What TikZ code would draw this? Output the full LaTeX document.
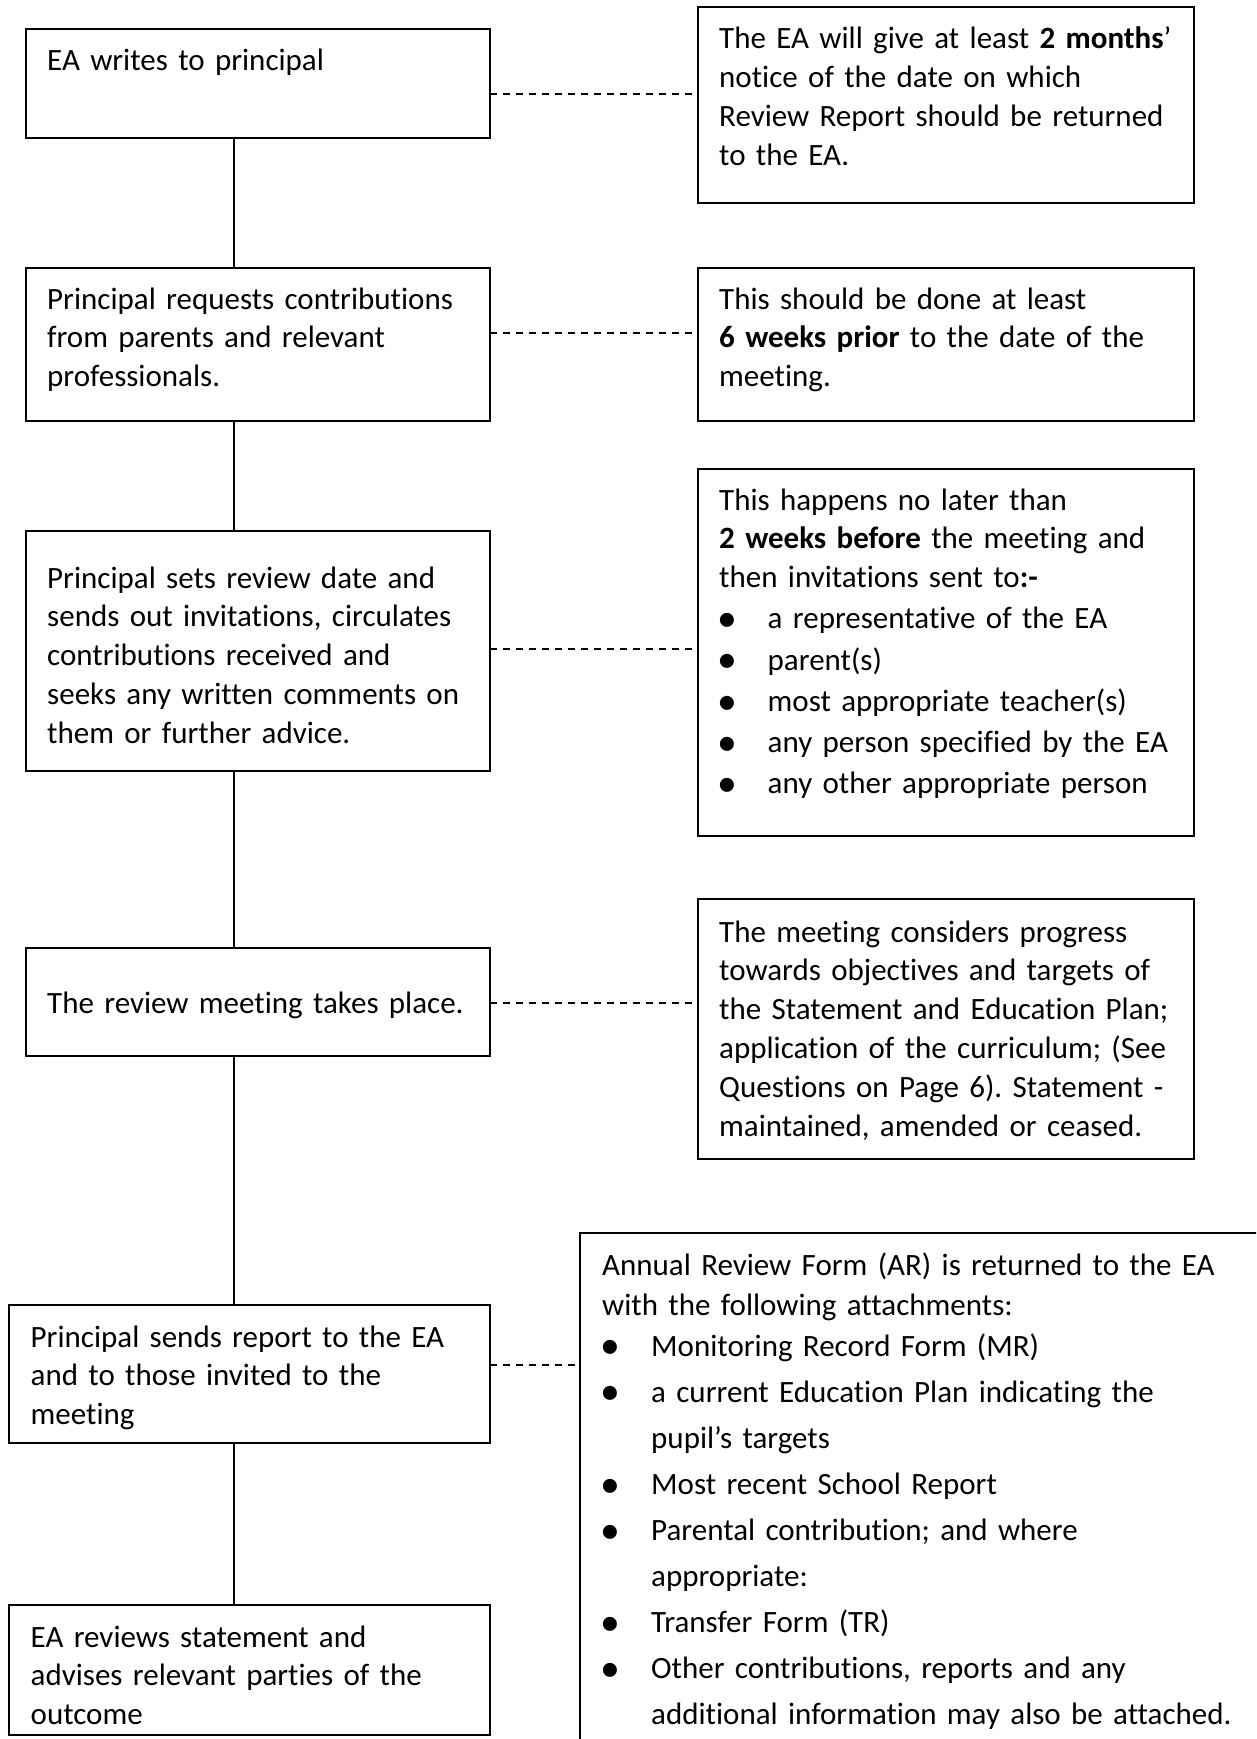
\documentclass[tikz,border=0pt]{standalone}
\usepackage{fontspec}
\usepackage{graphicx}
\setmainfont{Carlito}[Ligatures={NoCommon}]
\usetikzlibrary{calc}
\hyphenpenalty=10000\relax
\frenchspacing
\newcommand\blt[2]{\makebox[#2pt][l]{\hspace*{#1pt}\raisebox{-2.8pt}{\scalebox{1.28}{•}}}}
\begin{document}
\begin{tikzpicture}[x=1pt,y=-1pt,
  box/.style={draw=black, line width=2.2pt, inner sep=0pt, outer sep=0pt, anchor=north west},
  txt/.style={inner sep=0pt, anchor=base west, align=left, font=\fontsize{31}{38.8}\selectfont},
  link/.style={line width=1.8pt},
  dashlink/.style={line width=1.7pt, dash pattern=on 7pt off 6pt}]
\useasboundingbox (0,0) rectangle (1256,1739);
\clip (0,0) rectangle (1256,1739);

% boxes
\node[box, minimum width=464pt, minimum height=109pt] (b1) at (26,29) {};
\node[box, minimum width=496pt, minimum height=196pt] (r1) at (698,7) {};
\node[box, minimum width=464pt, minimum height=153pt] (b2) at (26,268) {};
\node[box, minimum width=496pt, minimum height=153pt] (r2) at (698,268) {};
\node[box, minimum width=464pt, minimum height=240pt] (b3) at (26,531) {};
\node[box, minimum width=496pt, minimum height=367pt] (r3) at (698,469) {};
\node[box, minimum width=464pt, minimum height=108pt] (b4) at (26,948) {};
\node[box, minimum width=496pt, minimum height=260pt] (r4) at (698,899) {};
\node[box, minimum width=481pt, minimum height=138pt] (b5) at (9,1305) {};
\node[box, minimum width=700pt, minimum height=527pt] (r5) at (580,1233) {};
\node[box, minimum width=481pt, minimum height=130pt] (b6) at (9,1605) {};

% texts
\node[txt, text width=440pt] (t1) at (47,71) {EA writes to principal};
\node[txt, text width=470pt] (s1) at (719,49) {The EA will give at least \textbf{2 months}’\\notice of the date on which\\Review Report should be returned\\to the EA.};
\node[txt, text width=440pt] (t2) at (47,309) {Principal requests contributions\\from parents and relevant\\professionals.};
\node[txt, text width=470pt] (s2) at (719,309) {This should be done at least\\\textbf{6 weeks prior} to the date of the\\meeting.};
\node[txt, text width=440pt] (t3) at (47,588) {Principal sets review date and\\sends out invitations, circulates\\contributions received and\\seeks any written comments on\\them or further advice.};
\node[txt, text width=470pt] (s3) at (719,510) {This happens no later than\\\textbf{2 weeks before} the meeting and\\then invitations sent to\textbf{:-}\\[2.4pt]
\blt{-2}{48.5}a representative of the EA\\[2.4pt]
\blt{-2}{48.5}parent(s)\\[2.4pt]
\blt{-2}{48.5}most appropriate teacher(s)\\[2.4pt]
\blt{-2}{48.5}any person specified by the EA\\[2.4pt]
\blt{-2}{48.5}any other appropriate person};
\node[txt, text width=440pt] (t4) at (47,1013) {The review meeting takes place.};
\node[txt, text width=470pt] (s4) at (719,942) {The meeting considers progress\\towards objectives and targets of\\the Statement and Education Plan;\\application of the curriculum; (See\\Questions on Page 6). Statement -\\maintained, amended or ceased.};
\node[txt, text width=460pt] (t5) at (30.5,1347) {Principal sends report to the EA\\and to those invited to the\\meeting};
\node[txt, text width=650pt] (s5) at (602,1275) {Annual Review Form (AR) is returned to the EA\\[1.2pt]
with the following attachments:\\[2.2pt]
\blt{-2}{49}Monitoring Record Form (MR)\\[7.3pt]
\blt{-2}{49}a current Education Plan indicating the\\[7.3pt]
\hspace*{49pt}pupil’s targets\\[7.3pt]
\blt{-2}{49}Most recent School Report\\[7.3pt]
\blt{-2}{49}Parental contribution; and where\\[7.3pt]
\hspace*{49pt}appropriate:\\[7.3pt]
\blt{-2}{49}Transfer Form (TR)\\[7.3pt]
\blt{-2}{49}Other contributions, reports and any\\[7.3pt]
\hspace*{49pt}additional information may also be attached.};
\node[txt, text width=460pt] (t6) at (30.5,1647) {EA reviews statement and\\advises relevant parties of the\\outcome};

% vertical connectors
\draw[link] ($(b1.south west)+(208,0)$) -- ($(b2.north west)+(208,0)$);
\draw[link] ($(b2.south west)+(208,0)$) -- ($(b3.north west)+(208,0)$);
\draw[link] ($(b3.south west)+(208,0)$) -- ($(b4.north west)+(208,0)$);
\draw[link] ($(b4.south west)+(208,0)$) -- ($(b5.north west)+(225,0)$);
\draw[link] ($(b5.south west)+(225,0)$) -- ($(b6.north west)+(225,0)$);

% dashed connectors
\draw[dashlink] ($(b1.east)+(0,10.5)$) -- ($(r1.west)+(0,-11)$);
\draw[dashlink] ($(b2.east)+(0,-11.5)$) -- ($(r2.west)+(0,-11.5)$);
\draw[dashlink] ($(b3.east)+(0,-2)$) -- ($(r3.west)+(0,-3.5)$);
\draw[dashlink] ($(b4.east)+(0,1)$) -- ($(r4.west)+(0,-26)$);
\draw[dashlink] ($(b5.east)+(0,-9)$) -- ($(r5.west)+(0,-131.5)$);
\end{tikzpicture}
\end{document}
